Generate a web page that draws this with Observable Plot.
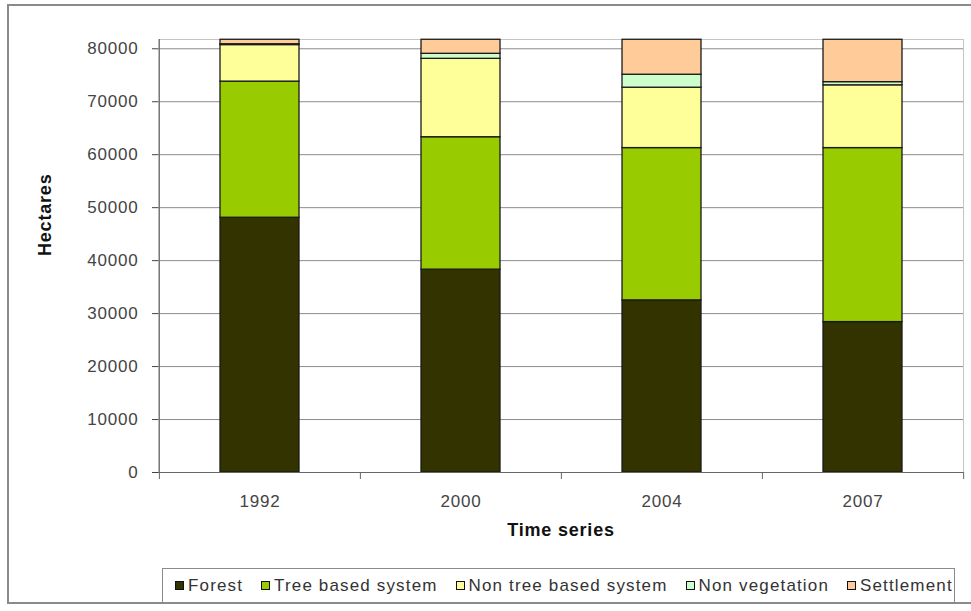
<!DOCTYPE html>
<html>
<head>
<meta charset="utf-8">
<script src="https://cdn.jsdelivr.net/npm/d3@7"></script>
<script src="https://cdn.jsdelivr.net/npm/@observablehq/plot@0.6"></script>
<style>
  html, body { margin: 0; padding: 0; background: #fff; }
  #wrap { position: relative; width: 971px; height: 611px; overflow: hidden; font-family: "Liberation Sans", Arial, sans-serif; }
  #border { position: absolute; left: 7px; top: 4px; width: 966px; height: 600px; border: 2px solid #8a8a8a; box-sizing: border-box; pointer-events: none; }
  #chart { position: absolute; left: 0; top: 0; }
  #legend { position: absolute; left: 162px; top: 568px; width: 793px; height: 35px; box-sizing: border-box;
            border: 1.5px solid #8a8a8a; display: flex; align-items: center; padding-left: 12px;
            font-size: 17px; letter-spacing: 1.15px; color: #333; white-space: nowrap; }
  .item { display: flex; align-items: center; margin-right: 18px; }
  .sw { width: 7px; height: 7px; border: 1px solid #111; margin-right: 4px; }
</style>
</head>
<body>
<div id="wrap">
  <div id="chart"></div>
  <div id="legend"></div>
  <div id="border"></div>
</div>
<script>
// ---- data ----
const years = ["1992", "2000", "2004", "2007"];
const seriesNames = ["Forest", "Tree based system", "Non tree based system", "Non vegetation", "Settlement"];
const seriesColors = ["#333300", "#99cc00", "#ffff99", "#ccffcc", "#ffcc99"];
const forest = [48100, 38300, 32500, 28400];
const treeBased = [25700, 25000, 28750, 32850];
const nonTree = [6900, 14800, 11400, 11850];
const nonVeg = [150, 950, 2450, 600];
const settlement = [850, 2650, 6600, 8000];
const yTicks = [0, 10000, 20000, 30000, 40000, 50000, 60000, 70000, 80000];
const yLabel = "Hectares";
const xLabel = "Time series";

const seriesValues = [forest, treeBased, nonTree, nonVeg, settlement];
const table = [];
seriesNames.forEach((s, i) => years.forEach((y, j) => table.push({year: y, series: s, value: seriesValues[i][j]})));

const W = 971, H = 611, mL = 158, mR = 8, mT = 39, mB = 139;
const bw = (W - mL - mR) / years.length;

const chart = Plot.plot({
  width: W, height: H,
  marginLeft: mL, marginRight: mR, marginTop: mT, marginBottom: mB,
  style: { fontFamily: "Liberation Sans, Arial, sans-serif", fontSize: "17px", letterSpacing: "0.8px", background: "transparent", overflow: "visible" },
  x: { domain: years, paddingInner: 0, paddingOuter: 0, axis: null },
  y: { domain: [0, 81750], axis: null },
  color: { domain: seriesNames, range: seriesColors },
  marks: [
    Plot.frame({ stroke: "#c4c4c4" }),
    Plot.ruleY(yTicks.filter(d => d > 0), { stroke: "#8c8c8c", strokeWidth: 1 }),
    Plot.barY(table, { x: "year", y: "value", fill: "series", order: seriesNames,
                       stroke: "#1a1a1a", strokeWidth: 1.3, insetLeft: 61, insetRight: 61 }),
    Plot.ruleY([0], { stroke: "#666" }),
    Plot.ruleX([years[0]], { x: d => d, dx: -bw / 2, stroke: "#666" }),
    Plot.ruleX(years, { x: d => d, dx: -bw / 2, y1: 0, y2: 0, insetBottom: -7, stroke: "#666" }),
    Plot.ruleX([years[years.length - 1]], { x: d => d, dx: bw / 2, y1: 0, y2: 0, insetBottom: -7, stroke: "#666" }),
    Plot.axisY({ ticks: yTicks, tickSize: 6, tickPadding: 14, tickFormat: d => String(d), color: "#444", label: null }),
    Plot.axisX({ tickSize: 0, tickPadding: 22, color: "#444", label: null }),
    Plot.text([yLabel], { frameAnchor: "left", dx: -113, rotate: -90, text: d => d,
                          fontWeight: "bold", fontSize: 18, fill: "#111", letterSpacing: "0.9px" }),
    Plot.text([xLabel], { frameAnchor: "bottom", dy: 63, text: d => d,
                          fontWeight: "bold", fontSize: 18, fill: "#111", letterSpacing: "0.7px" })
  ]
});
document.getElementById("chart").appendChild(chart);

const legend = document.getElementById("legend");
seriesNames.forEach((s, i) => {
  const it = document.createElement("div");
  it.className = "item";
  const sw = document.createElement("div");
  sw.className = "sw";
  sw.style.background = seriesColors[i];
  const t = document.createElement("span");
  t.textContent = s;
  it.appendChild(sw); it.appendChild(t);
  legend.appendChild(it);
});
</script>
</body>
</html>
